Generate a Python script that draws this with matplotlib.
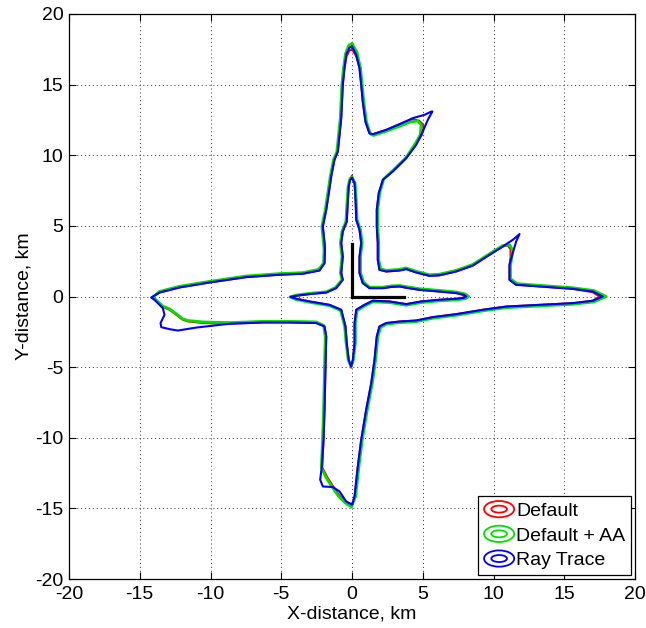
import matplotlib
matplotlib.use("Agg")
import matplotlib.pyplot as plt
from matplotlib.patches import Ellipse
from matplotlib.legend_handler import HandlerBase
from matplotlib.lines import Line2D

plt.rcParams['font.family'] = ['Liberation Sans', 'DejaVu Sans']
plt.rcParams['axes.unicode_minus'] = False

series_names = ["Default", "Default + AA", "Ray Trace"]
series_colors = ["#ff0000", "#00e000", "#0000ff"]

# Outer coverage boundary (km), clockwise from the northern tip
outer_ray = [
    (0.0, 17.7), (0.30, 17.11), (0.53, 16.16), (0.65, 14.98), (0.76, 13.80),
    (0.95, 12.38), (1.23, 11.56), (1.47, 11.49), (2.42, 11.80), (3.36, 12.20),
    (4.30, 12.63), (5.12, 12.86), (5.60, 13.09), (5.68, 13.1), (5.36, 12.51),
    (5.00, 11.68), (4.54, 10.74), (3.83, 9.79), (2.88, 8.85), (2.18, 8.26),
    (1.89, 7.32), (1.75, 6.14), (1.75, 4.95), (1.82, 3.78), (1.82, 2.60),
    (1.94, 1.89), (2.42, 1.77), (3.36, 1.84), (3.83, 1.94), (4.54, 1.70),
    (5.48, 1.46), (6.18, 1.50), (7.36, 1.77), (8.54, 2.19), (9.72, 2.95),
    (10.66, 3.54), (11.36, 4.01), (11.84, 4.42), (11.60, 3.89), (11.36, 3.07),
    (11.13, 2.24), (11.13, 1.18), (11.60, 0.83), (13.25, 0.71), (15.60, 0.54),
    (17.02, 0.35), (17.72, 0.0), (17.02, -0.30), (15.60, -0.47), (13.25, -0.59),
    (10.90, -0.71), (9.24, -0.94), (7.36, -1.25), (5.71, -1.46), (4.54, -1.70),
    (3.36, -1.77), (2.42, -1.88), (1.94, -2.12), (1.75, -2.83), (1.59, -4.48),
    (1.36, -6.13), (1.00, -8.02), (0.65, -10.14), (0.41, -12.03), (0.18, -14.15),
    (0.01, -14.74), (-0.41, -14.51), (-0.88, -13.80), (-1.36, -13.49), (-2.06, -13.45),
    (-2.25, -12.97), (-2.13, -12.03), (-2.01, -10.14), (-1.94, -8.02), (-1.87, -4.95),
    (-1.82, -2.83), (-1.94, -2.12), (-2.53, -1.88), (-4.42, -1.84), (-6.30, -1.84),
    (-8.66, -1.93), (-11.01, -2.20), (-12.31, -2.41), (-12.90, -2.31), (-13.48, -2.17),
    (-13.53, -1.88), (-13.25, -1.30), (-13.37, -0.82), (-13.96, -0.23), (-14.19, -0.07),
    (-13.60, 0.28), (-12.19, 0.64), (-10.07, 0.99), (-7.48, 1.37), (-5.12, 1.54),
    (-3.48, 1.61), (-2.30, 1.84), (-1.94, 2.36), (-1.91, 3.31), (-1.94, 3.78),
    (-2.06, 4.95), (-1.82, 6.14), (-1.64, 7.32), (-1.47, 8.49), (-1.24, 9.67),
    (-1.00, 10.26), (-0.76, 12.63), (-0.65, 14.98), (-0.53, 16.16), (-0.41, 17.11),
    (-0.18, 17.62),
]

outer_default = [
    (0.0, 17.5), (0.30, 17.0), (0.53, 16.16), (0.65, 14.98), (0.76, 13.80),
    (0.95, 12.38), (1.23, 11.56), (1.47, 11.49), (2.42, 11.80), (3.36, 12.20),
    (4.30, 12.55), (4.75, 12.45), (5.0, 12.2), (5.05, 11.9), (4.95, 11.45),
    (4.54, 10.80), (3.83, 9.79), (2.88, 8.85), (2.18, 8.26),
    (1.89, 7.32), (1.75, 6.14), (1.75, 4.95), (1.82, 3.78), (1.82, 2.60),
    (1.94, 1.89), (2.42, 1.77), (3.36, 1.84), (3.83, 1.94), (4.54, 1.70),
    (5.48, 1.46), (6.18, 1.50), (7.36, 1.77), (8.54, 2.19), (9.72, 2.95),
    (10.66, 3.54), (11.0, 3.62), (11.2, 3.35), (11.2, 2.8),
    (11.13, 2.24), (11.13, 1.18), (11.60, 0.83), (13.25, 0.71), (15.60, 0.54),
    (17.0, 0.30), (17.5, 0.0), (17.0, -0.30), (15.60, -0.47), (13.25, -0.59),
    (10.90, -0.71), (9.24, -0.94), (7.36, -1.25), (5.71, -1.46), (4.54, -1.70),
    (3.36, -1.77), (2.42, -1.88), (1.94, -2.12), (1.75, -2.83), (1.59, -4.48),
    (1.36, -6.13), (1.00, -8.02), (0.65, -10.14), (0.41, -12.03), (0.18, -14.15),
    (0.0, -14.72), (-0.41, -14.55), (-0.88, -14.1), (-1.36, -13.4), (-1.77, -12.75),
    (-2.10, -12.1), (-2.01, -10.14), (-1.94, -8.02), (-1.87, -4.95),
    (-1.82, -2.83), (-1.94, -2.12), (-2.53, -1.88), (-4.42, -1.84), (-6.30, -1.84),
    (-8.66, -1.93), (-10.54, -1.88), (-11.6, -1.77), (-11.96, -1.65), (-12.42, -1.30),
    (-12.90, -0.94), (-13.37, -0.75), (-13.96, -0.23), (-14.15, -0.07),
    (-13.60, 0.28), (-12.19, 0.64), (-10.07, 0.99), (-7.48, 1.37), (-5.12, 1.54),
    (-3.48, 1.61), (-2.30, 1.84), (-1.94, 2.36), (-1.91, 3.31), (-1.94, 3.78),
    (-2.06, 4.95), (-1.82, 6.14), (-1.64, 7.32), (-1.47, 8.49), (-1.24, 9.67),
    (-1.00, 10.26), (-0.76, 12.63), (-0.65, 14.98), (-0.53, 16.16), (-0.38, 17.0),
    (-0.18, 17.4),
]

outer_default_aa = [
    (0.0, 17.9), (0.35, 17.3), (0.60, 16.16), (0.72, 14.98), (0.83, 13.80),
    (1.02, 12.38), (1.30, 11.50), (1.52, 11.40), (2.42, 11.70), (3.36, 12.05),
    (4.06, 12.34), (4.65, 12.43), (4.89, 12.15), (4.82, 11.44),
    (4.45, 10.80), (3.83, 9.85), (2.88, 8.92), (2.24, 8.32),
    (1.96, 7.32), (1.82, 6.14), (1.82, 4.95), (1.89, 3.78), (1.89, 2.60),
    (2.02, 1.97), (2.42, 1.85), (3.36, 1.92), (3.83, 2.02), (4.54, 1.78),
    (5.48, 1.54), (6.18, 1.58), (7.36, 1.85), (8.54, 2.27), (9.72, 3.03),
    (10.66, 3.61), (11.13, 3.66), (11.36, 3.30), (11.25, 2.48),
    (11.20, 2.24), (11.20, 1.26), (11.66, 0.91), (13.25, 0.79), (15.60, 0.62),
    (17.1, 0.42), (17.97, 0.0), (17.1, -0.38), (15.60, -0.55), (13.25, -0.67),
    (10.90, -0.79), (9.24, -1.02), (7.36, -1.33), (5.71, -1.54), (4.54, -1.78),
    (3.36, -1.85), (2.42, -1.96), (2.02, -2.20), (1.83, -2.83), (1.67, -4.48),
    (1.44, -6.13), (1.08, -8.02), (0.73, -10.14), (0.49, -12.03), (0.26, -14.15),
    (-0.04, -14.9), (-0.47, -14.62), (-0.95, -14.15), (-1.43, -13.45), (-1.85, -12.8),
    (-2.17, -12.1), (-2.08, -10.14), (-2.01, -8.02), (-1.94, -4.95),
    (-1.89, -2.83), (-2.01, -2.04), (-2.53, -1.80), (-4.42, -1.76), (-6.30, -1.76),
    (-8.66, -1.85), (-10.54, -1.80), (-11.6, -1.70), (-11.96, -1.58), (-12.42, -1.22),
    (-12.90, -0.87), (-13.37, -0.68), (-13.90, -0.20), (-14.05, -0.03),
    (-13.60, 0.36), (-12.19, 0.72), (-10.07, 1.07), (-7.48, 1.45), (-5.12, 1.62),
    (-3.48, 1.69), (-2.37, 1.92), (-2.01, 2.36), (-1.98, 3.31), (-2.01, 3.78),
    (-2.13, 4.95), (-1.89, 6.14), (-1.71, 7.32), (-1.54, 8.49), (-1.31, 9.67),
    (-1.07, 10.26), (-0.83, 12.63), (-0.72, 14.98), (-0.60, 16.16), (-0.46, 17.2),
    (-0.22, 17.8),
]

# Inner boundary (km), clockwise from the northern tip
inner_ray = [
    (0.0, 8.38), (0.18, 8.03), (0.25, 6.84), (0.30, 5.43), (0.53, 4.72),
    (0.65, 3.78), (0.53, 2.83), (0.53, 1.66), (0.76, 0.95), (1.24, 0.59),
    (2.18, 0.59), (2.80, 0.68), (3.36, 0.71), (3.83, 0.62), (4.77, 0.47),
    (6.18, 0.35), (7.36, 0.24), (7.90, 0.13), (8.07, 0.0), (7.90, -0.10),
    (7.36, -0.16), (6.18, -0.23), (4.89, -0.35), (3.83, -0.54), (2.65, -0.35),
    (1.47, -0.30), (0.88, -0.59), (0.30, -0.94), (0.18, -1.88), (0.18, -3.30),
    (0.06, -4.48), (-0.06, -4.95), (-0.23, -4.48), (-0.37, -3.30), (-0.46, -2.12),
    (-0.76, -0.94), (-1.59, -0.59), (-3.00, -0.35), (-3.94, -0.16), (-4.35, -0.03),
    (-3.94, 0.05), (-3.00, 0.17), (-1.82, 0.28), (-1.12, 0.59), (-0.65, 1.18),
    (-0.76, 1.66), (-0.65, 2.83), (-0.76, 3.78), (-0.65, 4.60), (-0.37, 5.31),
    (-0.30, 6.61), (-0.23, 7.79), (-0.13, 8.26),
]

inner_default = [
    (0.0, 8.54), (0.18, 8.10), (0.25, 6.84), (0.30, 5.43), (0.53, 4.72),
    (0.65, 3.78), (0.53, 2.83), (0.53, 1.66), (0.76, 0.95), (1.24, 0.59),
    (2.18, 0.59), (2.80, 0.68), (3.36, 0.71), (3.83, 0.62), (4.77, 0.47),
    (6.18, 0.35), (7.36, 0.24), (7.80, 0.12), (7.95, 0.0), (7.80, -0.10),
    (7.36, -0.16), (6.18, -0.23), (4.89, -0.35), (3.83, -0.54), (2.65, -0.35),
    (1.47, -0.30), (0.88, -0.59), (0.30, -0.94), (0.18, -1.88), (0.18, -3.30),
    (0.06, -4.55), (-0.06, -5.05), (-0.23, -4.55), (-0.37, -3.30), (-0.46, -2.12),
    (-0.76, -0.94), (-1.59, -0.59), (-3.00, -0.35), (-3.94, -0.16), (-4.40, -0.03),
    (-3.94, 0.05), (-3.00, 0.17), (-1.82, 0.28), (-1.12, 0.59), (-0.65, 1.18),
    (-0.76, 1.66), (-0.65, 2.83), (-0.76, 3.78), (-0.65, 4.60), (-0.37, 5.31),
    (-0.30, 6.61), (-0.23, 7.85), (-0.13, 8.36),
]

inner_default_aa = [
    (0.0, 8.42), (0.22, 8.03), (0.30, 6.84), (0.36, 5.43), (0.60, 4.72),
    (0.72, 3.78), (0.60, 2.83), (0.60, 1.70), (0.82, 1.02), (1.24, 0.66),
    (2.18, 0.66), (2.80, 0.75), (3.36, 0.78), (3.83, 0.70), (4.77, 0.55),
    (6.18, 0.43), (7.36, 0.32), (8.00, 0.18), (8.25, 0.0), (8.00, -0.16),
    (7.36, -0.24), (6.18, -0.31), (4.89, -0.43), (3.83, -0.62), (2.65, -0.43),
    (1.47, -0.38), (0.95, -0.65), (0.36, -0.99), (0.24, -1.88), (0.24, -3.30),
    (0.10, -4.48), (-0.06, -4.95), (-0.27, -4.48), (-0.42, -3.30), (-0.52, -2.12),
    (-0.80, -1.00), (-1.59, -0.65), (-3.00, -0.41), (-3.94, -0.22), (-4.38, -0.03),
    (-3.94, 0.10), (-3.00, 0.22), (-1.82, 0.33), (-1.18, 0.63), (-0.71, 1.18),
    (-0.82, 1.66), (-0.71, 2.83), (-0.82, 3.78), (-0.71, 4.60), (-0.43, 5.31),
    (-0.36, 6.61), (-0.28, 7.79), (-0.16, 8.30),
]

outer_sets = [outer_default, outer_default_aa, outer_ray]
inner_sets = [inner_default, inner_default_aa, inner_ray]

# Radar location marker (km)
marker_len = 3.7

x_ticks = list(range(-20, 21, 5))
y_ticks = list(range(-20, 21, 5))


class HandlerRings(HandlerBase):
    """Legend key drawn as a pair of nested contour rings."""

    def create_artists(self, legend, orig_handle, xdescent, ydescent,
                       width, height, fontsize, trans):
        cx = width / 2 - xdescent
        cy = height / 2 - ydescent
        c = orig_handle.get_color()
        big = Ellipse((cx, cy), width, height * 1.05, fill=False,
                      edgecolor=c, lw=1.3, transform=trans)
        small = Ellipse((cx, cy), width * 0.52, height * 0.45, fill=False,
                        edgecolor=c, lw=1.3, transform=trans)
        return [big, small]


def closed(pts):
    xs = [p[0] for p in pts] + [pts[0][0]]
    ys = [p[1] for p in pts] + [pts[0][1]]
    return xs, ys


fig = plt.figure(figsize=(6.46, 6.28), dpi=100)
ax = fig.add_axes([69 / 646, 49 / 628, 566 / 646, 565 / 628])

widths = [1.4, 2.0, 1.5]
handles = []
for name, color, lw, outer, inner in zip(series_names, series_colors, widths,
                                         outer_sets, inner_sets):
    xo, yo = closed(outer)
    xi, yi = closed(inner)
    ax.plot(xo, yo, color=color, lw=lw, solid_joinstyle='round')
    ax.plot(xi, yi, color=color, lw=lw, solid_joinstyle='round')
    handles.append(Line2D([], [], color=color, label=name))

ax.plot([0, 0, marker_len], [marker_len, 0, 0], color='k', lw=2.3,
        solid_joinstyle='miter', zorder=5)

ax.set_xlim(-20, 20)
ax.set_ylim(-20, 20)
ax.set_xticks(x_ticks)
ax.set_yticks(y_ticks)
ax.tick_params(direction='in', top=True, right=True, length=5, width=0.8,
               labelsize=14)
ax.tick_params(axis='x', pad=5)
ax.tick_params(axis='y', pad=4)
ax.grid(True, color='#333333', linestyle=(0, (1, 3)), lw=0.7)
for s in ax.spines.values():
    s.set_linewidth(0.9)

ax.set_xlabel('X-distance, km', fontsize=14, labelpad=2)
ax.set_ylabel('Y-distance, km', fontsize=14, labelpad=2)

leg = ax.legend(handles=handles, loc='lower right', fontsize=14,
                handler_map={Line2D: HandlerRings()},
                handlelength=1.55, handleheight=0.85, handletextpad=0.1,
                labelspacing=0.32, borderpad=0.3, borderaxespad=0.2,
                fancybox=False, framealpha=1, edgecolor='k')
leg.get_frame().set_linewidth(0.9)

fig.savefig('out.png', dpi=100)
